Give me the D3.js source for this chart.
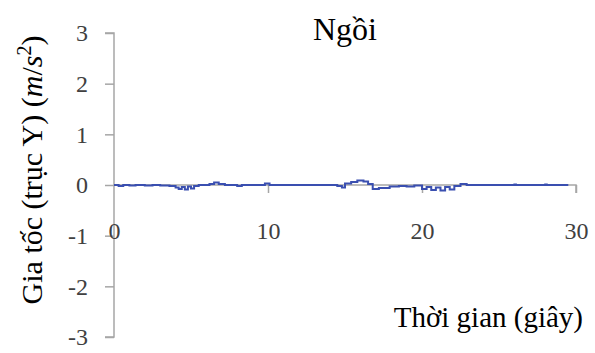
<!DOCTYPE html>
<html>
<head>
<meta charset="utf-8">
<script src="https://cdn.jsdelivr.net/npm/d3@7"></script>
<style>
  body { margin: 0; background: #fff; }
  svg { display: block; }
</style>
</head>
<body>
<svg id="chart"></svg>
<script>
  const title = "Ngồi";
  const xLabel = "Thời gian (giây)";
  const xTicks = [0, 10, 20, 30];
  const yTicks = [-3, -2, -1, 0, 1, 2, 3];

  // time (s) and acceleration (m/s^2)
  const times = [0, 0.3, 0.6, 1.0, 1.4, 2.0, 2.5, 3.0, 3.6, 4.0, 4.2, 4.4, 4.6, 4.8, 5.0, 5.2, 5.5,
    6.2, 6.5, 6.8, 7.2, 8.0, 8.3, 9.8, 10.1, 12.0, 14.5, 14.8, 15.0, 15.4, 15.8, 16.2, 16.5,
    16.8, 17.2, 17.9, 18.5, 19.0, 19.5, 20.0, 20.3, 20.6, 20.9, 21.2, 21.5, 21.8, 22.1, 22.5,
    22.9, 26.0, 26.1, 28.0, 28.1, 29.5];
  const accel = [0.00, -0.02, 0.00, -0.01, 0.00, -0.01, 0.00, -0.01, -0.02, -0.05, -0.08, -0.04, -0.09, -0.03, -0.07, -0.02, 0.00,
    0.02, 0.05, 0.02, 0.00, -0.02, 0.00, 0.03, 0.00, 0.00, -0.02, -0.05, 0.03, 0.06, 0.09, 0.07, 0.02,
    -0.08, -0.06, -0.03, -0.02, -0.03, -0.01, -0.08, -0.04, -0.10, -0.05, -0.11, -0.04, -0.09, -0.02, 0.02,
    0.00, 0.01, 0.00, 0.01, 0.00, 0.00];

  const width = 595, height = 353;
  const svg = d3.select("#chart").attr("width", width).attr("height", height);

  const x = d3.scaleLinear().domain([0, 30]).range([114, 576]);
  const y = d3.scaleLinear().domain([-3, 3]).range([337, 33]);

  const axisColor = "#a6a6a6";
  const tickText = "#404040";
  const serif = "'Liberation Serif', 'Times New Roman', serif";

  const gy = svg.append("g")
    .attr("transform", `translate(${x(0)},0)`)
    .call(d3.axisLeft(y).tickValues(yTicks).tickSize(9).tickPadding(17).tickFormat(d => String(d)));

  const gx = svg.append("g")
    .attr("transform", `translate(0,${y(0)})`)
    .call(d3.axisBottom(x).tickValues(xTicks).tickSize(8).tickPadding(29).tickFormat(d => String(d)));

  [gx, gy].forEach(g => {
    g.select(".domain").attr("stroke", axisColor).attr("stroke-width", 1.5);
    g.selectAll(".tick line").attr("stroke", axisColor).attr("stroke-width", 1.5);
    g.selectAll(".tick text")
      .attr("fill", tickText)
      .style("font", `24px ${serif}`);
  });
  gy.select(".domain").attr("d", `M-9,${y(3)}H0V${y(-3)}H-9`);
  gx.select(".domain").attr("d", `M${x(0)},0H${x(30)}V8`);
  gx.selectAll(".tick").filter(d => d === 0).select("line").remove();

  const data = times.map((t, i) => ({ t, v: accel[i] }));
  const line = d3.line().x(d => x(d.t)).y(d => y(d.v)).curve(d3.curveStepAfter);

  svg.append("path")
    .datum(data)
    .attr("fill", "none")
    .attr("stroke", "#3a4fb0")
    .attr("stroke-width", 2)
    .attr("d", line);

  svg.append("text")
    .attr("x", 345).attr("y", 40)
    .attr("text-anchor", "middle")
    .style("font", `32px ${serif}`)
    .attr("fill", "#000")
    .text(title);

  svg.append("text")
    .attr("x", 583).attr("y", 327)
    .attr("text-anchor", "end")
    .style("font", `29px ${serif}`)
    .attr("fill", "#000")
    .text(xLabel);

  const yl = svg.append("text")
    .attr("transform", "translate(42,170) rotate(-90)")
    .attr("text-anchor", "middle")
    .style("font", `30px ${serif}`)
    .attr("fill", "#000");
  yl.append("tspan").text("Gia tốc (trục Y) (");
  yl.append("tspan").style("font-style", "italic").text("m");
  yl.append("tspan").text("/");
  yl.append("tspan").style("font-style", "italic").text("s");
  yl.append("tspan").attr("dy", -11).style("font-size", "20px").text("2");
  yl.append("tspan").attr("dy", 11).text(")");
</script>
</body>
</html>
